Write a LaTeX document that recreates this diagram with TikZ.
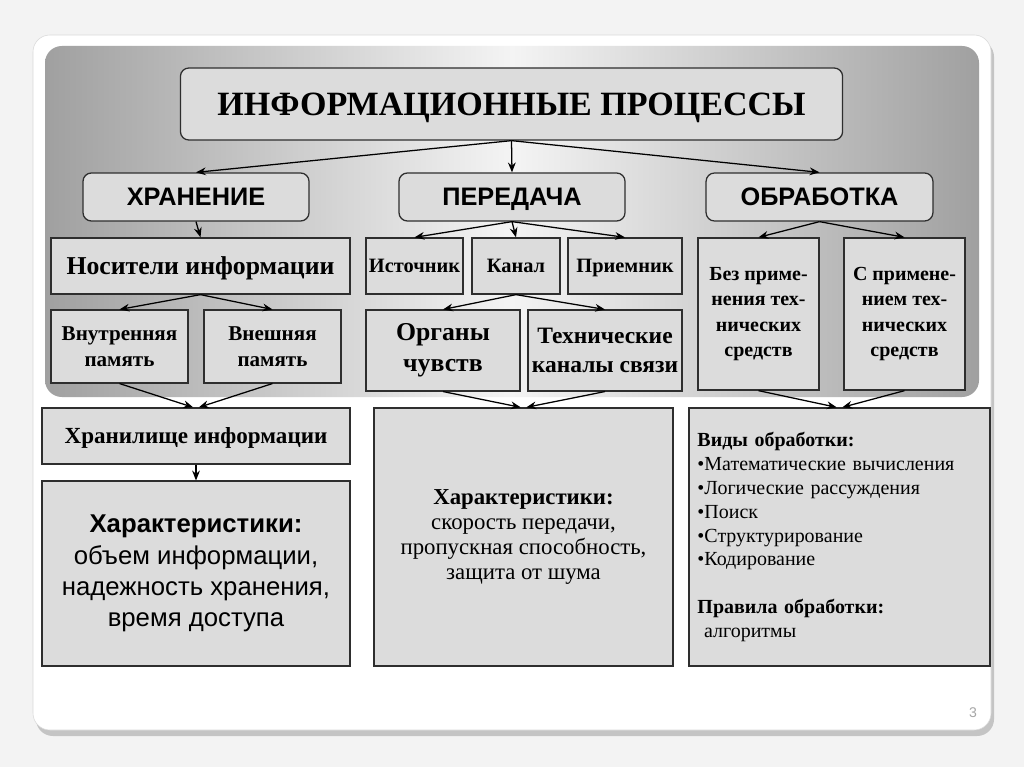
\documentclass[tikz,border=0pt]{standalone}
\usepackage{fontspec}
\setmainfont{Liberation Serif}
\setsansfont{Liberation Sans}
\usetikzlibrary{arrows.meta}
\definecolor{page}{HTML}{F3F3F3}
\definecolor{shadow}{HTML}{C4C4C4}
\definecolor{box}{HTML}{DCDCDC}
\definecolor{edge}{HTML}{2E2E2E}
\definecolor{side}{HTML}{A0A0A0}
\definecolor{mid}{HTML}{F4F4F4}
\tikzset{
  n/.style={draw=edge, line width=0.9pt, fill=box, align=center, inner sep=2pt},
  one/.style={text height=0.86*#1, text depth=0.2*#1},
  nr/.style={n, rounded corners=6pt},
  head/.style={nr, one=18pt, font=\sffamily\bfseries\fontsize{18}{20}\selectfont},
  sm/.style={n, font=\bfseries\fontsize{14.5}{17}\selectfont},
  a/.style={-{Stealth[length=7pt, width=5.5pt]}, draw=black, line width=0.9pt},
}

\begin{document}
\begin{tikzpicture}[x=0.025cm, y=-0.025cm]
\useasboundingbox (0,0) rectangle (1024,767);

% ---- slide and panel ----
\fill[page] (0,0) rectangle (1024,767);
\fill[shadow, rounded corners=12pt] (36,40) rectangle (994,736);
\fill[white, draw=gray!30, rounded corners=12pt] (33,35) rectangle (991,730);
\shade[rounded corners=12pt, left color=side, right color=side, middle color=mid]
  (45,46) rectangle (979,397);

% ---- top ----
\node[nr, one=24.2pt, minimum width=16.55cm, minimum height=1.8cm, font=\bfseries\fontsize{24.2}{28}\selectfont]
  (proc) at (511.5,104) {ИНФОРМАЦИОННЫЕ ПРОЦЕССЫ};

% ---- three processes ----
\node[head, minimum width=5.65cm, minimum height=1.2cm] (hran) at (196,197)   {ХРАНЕНИЕ};
\node[head, minimum width=5.65cm, minimum height=1.2cm] (per)  at (512,197)   {ПЕРЕДАЧА};
\node[head, minimum width=5.67cm, minimum height=1.2cm] (obr)  at (819.5,197) {ОБРАБОТКА};

% ---- storage ----
\node[n, one=18.3pt, minimum width=7.47cm, minimum height=1.4cm, font=\bfseries\fontsize{18.3}{20}\selectfont]
  (nos) at (200.5,266) {Носители информации};
\node[sm, minimum width=3.42cm, minimum height=1.82cm, font=\bfseries\fontsize{15}{18.5}\selectfont]
  (vnut)  at (119.5,346.5) {Внутренняя\\память};
\node[sm, minimum width=3.42cm, minimum height=1.82cm, font=\bfseries\fontsize{15}{18.5}\selectfont]
  (vnesh) at (272.5,346.5) {Внешняя\\память};

% ---- transfer ----
\node[sm, one=14.5pt, minimum width=2.42cm, minimum height=1.4cm] (ist) at (414.5,266) {Источник};
\node[sm, one=14.5pt, minimum width=2.2cm,  minimum height=1.4cm] (kan) at (516,266)   {Канал};
\node[sm, one=14.5pt, minimum width=2.85cm, minimum height=1.4cm] (pri) at (625,266)   {Приемник};
\node[n, minimum width=3.85cm, minimum height=2.02cm, font=\bfseries\fontsize{18.3}{22}\selectfont]
  (org) at (443,350.5) {Органы\\чувств};
\node[n, minimum width=3.85cm, minimum height=2.02cm, font=\bfseries\fontsize{16.7}{21}\selectfont]
  (teh) at (605,350.5) {Технические\\каналы связи};

% ---- processing ----
\node[sm, minimum width=3.02cm, minimum height=3.8cm, font=\bfseries\fontsize{14.2}{18.2}\selectfont]
  (bez) at (758.5,314) {Без приме-\\нения тех-\\нических\\средств};
\node[sm, minimum width=3.02cm, minimum height=3.8cm, font=\bfseries\fontsize{14.2}{18.2}\selectfont]
  (spr) at (904.5,314) {С примене-\\нием тех-\\нических\\средств};

% ---- lower boxes ----
\node[n, one=16.4pt, minimum width=7.7cm, minimum height=1.4cm, font=\bfseries\fontsize{16.4}{18}\selectfont]
  (hranil) at (196,436) {Хранилище информации};
\node[n, minimum width=7.7cm, minimum height=4.62cm, font=\sffamily\fontsize{18.3}{22.3}\selectfont]
  (harA) at (196,573.5) {\textbf{Характеристики:}\\объем информации,\\надежность хранения,\\время доступа};
\node[n, minimum width=7.47cm, minimum height=6.45cm, font=\fontsize{16.2}{17.8}\selectfont]
  (harB) at (523.5,537) {\textbf{Характеристики:}\\скорость передачи,\\пропускная способность,\\защита от шума};
\node[n, minimum width=7.47cm, minimum height=6.45cm, font=\fontsize{14.2}{17}\selectfont,
  align=left, text width=7.1cm, inner sep=6pt]
  (harC) at (839.5,537) {\textbf{Виды обработки:}\\
    •Математические вычисления\\•Логические рассуждения\\•Поиск\\
    •Структурирование\\•Кодирование\\[17pt]
    \textbf{Правила обработки:}\\\ алгоритмы};

\node[text=gray!70, font=\sffamily\fontsize{10}{12}\selectfont] (num) at (973,713) {3};

% ---- arrows ----
\draw[a] (proc.south) -- (hran.north);
\draw[a] (proc.south) -- (per.north);
\draw[a] (proc.south) -- (obr.north);

\draw[a] (hran.south) -- (nos.north);
\draw[a] (nos.south) -- (vnut.north);
\draw[a] (nos.south) -- (vnesh.north);
\draw[a] (vnut.south) -- ([xshift=-2pt]hranil.north);
\draw[a] (vnesh.south) -- ([xshift=2pt]hranil.north);
\draw[a] (hranil.south) -- (harA.north);

\draw[a] (per.south) -- (ist.north);
\draw[a] (per.south) -- (kan.north);
\draw[a] (per.south) -- (pri.north);
\draw[a] (kan.south) -- (org.north);
\draw[a] (kan.south) -- (teh.north);
\draw[a] (org.south) -- ([xshift=-2pt]harB.north);
\draw[a] (teh.south) -- ([xshift=2pt]harB.north);

\draw[a] (obr.south) -- (bez.north);
\draw[a] (obr.south) -- (spr.north);
\draw[a] (bez.south) -- ([xshift=-2pt]harC.north);
\draw[a] (spr.south) -- ([xshift=2pt]harC.north);
\end{tikzpicture}
\end{document}
